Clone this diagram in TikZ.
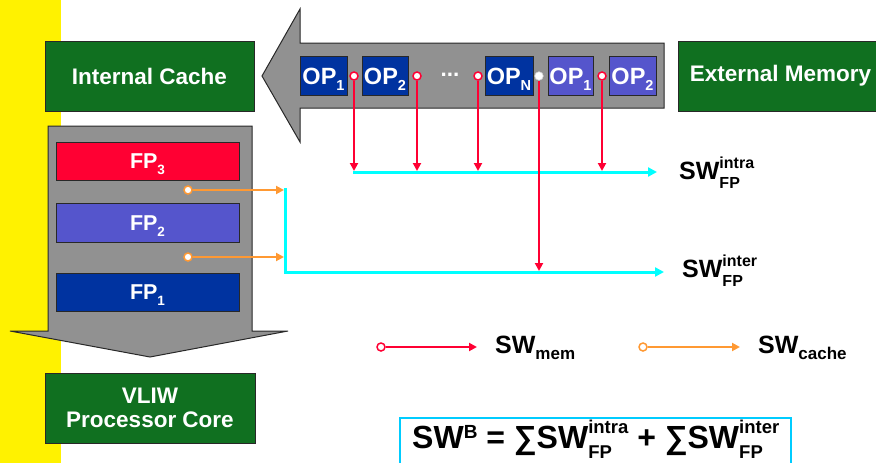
\documentclass[tikz,border=0pt]{standalone}
\usepackage{fontspec}
\setmainfont{Liberation Sans}
\usetikzlibrary{arrows.meta}
\definecolor{cgreen}{RGB}{16,112,32}
\definecolor{cdblue}{RGB}{0,51,160}
\definecolor{clblue}{RGB}{85,85,204}
\definecolor{cred}{RGB}{255,0,51}
\definecolor{cgray}{RGB}{145,145,145}
\definecolor{corange}{RGB}{255,153,51}
\definecolor{ccyan}{RGB}{0,255,255}
\definecolor{cframe}{RGB}{0,204,255}
\definecolor{cedge}{RGB}{40,40,40}
\newdimen\ssw
\newcommand\supsub[5]{%
  \setbox0\hbox{\fontsize{#1}{#1}\selectfont #4}%
  \setbox2\hbox{\fontsize{#1}{#1}\selectfont #5}%
  \ssw=\wd0 \ifdim\wd2>\ssw \ssw=\wd2 \fi
  \makebox[\ssw][l]{\rlap{\raisebox{#2}{\box0}}\raisebox{-#3}{\box2}}}
\newcommand\opsub[1]{OP\raisebox{-6pt}{\fontsize{14.5}{14.5}\selectfont #1}}
\newcommand\fpsub[1]{FP\raisebox{-6pt}{\fontsize{13.5}{13.5}\selectfont #1}}
\begin{document}
\begin{tikzpicture}[x=1pt,y=-1pt,
  box/.style={draw=cedge, line width=1pt, inner sep=0pt, text=white,
    font=\fontsize{22.5}{24}\selectfont\bfseries},
  greenbox/.style={box, fill=cgreen, minimum width=209pt, minimum height=70pt},
  opbox/.style={box, minimum height=39pt, text height=17pt, text depth=0pt,
    font=\fontsize{23.5}{24}\selectfont\bfseries},
  fpbox/.style={box, minimum width=183pt, text height=15pt, text depth=0pt,
    font=\fontsize{21.5}{24}\selectfont\bfseries},
  bigarrow/.style={fill=cgray, draw=cedge, line width=1pt, line join=miter},
  redline/.style={draw=cred, line width=2.6pt, -{Triangle[length=8pt,width=8pt]}},
  orangeline/.style={draw=corange, line width=2.4pt, -{Triangle[length=8pt,width=8pt]}},
  cyanline/.style={draw=ccyan, line width=3pt, -{Triangle[length=9pt,width=9pt]}},
  dotred/.style={circle, inner sep=0pt, minimum size=8pt, fill=white, draw=cred, line width=1.5pt},
  dotorange/.style={circle, inner sep=0pt, minimum size=8pt, fill=white, draw=corange, line width=1.5pt},
  dotwhite/.style={circle, inner sep=0pt, minimum size=8.5pt, fill=white, draw=white!85!black, line width=0.6pt},
  swlab/.style={inner sep=0pt, text=black, font=\fontsize{25}{25}\selectfont\bfseries},
  eqlab/.style={inner sep=0pt, text=black, font=\fontsize{32}{33}\selectfont\bfseries}]
\useasboundingbox (0,0) rectangle (876,463);
% yellow strip
\fill[yellow] (0,0) rectangle (61,463);
% big gray arrows
\draw[bigarrow] (664,43) -- (300,43) -- (300,9) -- (262,76) -- (300,142) -- (300,108) -- (664,108) -- cycle;
\draw[bigarrow] (48,126) -- (252,126) -- (252,331) -- (288,331) -- (150,357) -- (10,331) -- (48,331) -- cycle;
% green boxes
\node[greenbox] (ic) at (149.5,76) {Internal Cache};
\node[greenbox, minimum width=198pt, anchor=west] (em) at (677.5,76) {\hspace*{7pt}External Memory};
\node[greenbox, minimum width=210pt, align=center] (vliw) at (150,408) {VLIW\\Processor Core};
% OP boxes
\node[opbox, fill=cdblue, minimum width=47pt] (op1) at (323.5,75.5) {\opsub{1}};
\node[opbox, fill=cdblue, minimum width=46pt] (op2) at (385,75.5) {\opsub{2}};
\node[inner sep=0pt, text=white, font=\fontsize{22.5}{24}\selectfont\bfseries, anchor=base] (dots) at (450,82) {\raisebox{6pt}{...}};
\node[opbox, fill=cdblue, minimum width=48pt] (opn) at (509,75.5) {\opsub{N}};
\node[opbox, fill=clblue, minimum width=45pt] (op1b) at (570.5,75.5) {\opsub{1}};
\node[opbox, fill=clblue, minimum width=47pt] (op2b) at (632.5,75.5) {\opsub{2}};
% FP boxes
\node[fpbox, fill=cred, minimum height=38pt] (fp3) at (147.5,161) {\fpsub{3}};
\node[fpbox, fill=clblue, minimum height=39pt] (fp2) at (147.5,222.5) {\fpsub{2}};
\node[fpbox, fill=cdblue, minimum height=38pt] (fp1) at (147.5,292) {\fpsub{1}};
% coordinates
\coordinate (intraL) at (353,172);
\coordinate (intraR) at (657,172);
\coordinate (cvtop) at (285,188);
\coordinate (cvbot) at (285,272);
\coordinate (interR) at (664,272);
\coordinate (oa1) at (284,190);
\coordinate (oa2) at (284,257);
% cyan lines
\draw[cyanline] (intraL) -- (intraR);
\draw[cyanline, line join=miter] (cvtop) -- (cvbot) -- (interR);
% dots on arrow
\node[dotred] (d1) at (354,76) {};
\node[dotred] (d2) at (417,76) {};
\node[dotred] (d3) at (478,76) {};
\node[dotwhite] (d4) at (539,76) {};
\node[dotred] (d5) at (602,76) {};
% red arrows
\draw[redline] (d1) -- (d1 |- 0,171);
\draw[redline] (d2) -- (d2 |- 0,171);
\draw[redline] (d3) -- (d3 |- 0,171);
\draw[redline] (d4) -- (d4 |- 0,271);
\draw[redline] (d5) -- (d5 |- 0,171);
% orange arrows
\node[dotorange] (o1) at (188,190) {};
\node[dotorange] (o2) at (188,257) {};
\draw[orangeline] (o1) -- (oa1);
\draw[orangeline] (o2) -- (oa2);
% labels
\node[swlab, anchor=base west] (swintra) at (679,179) {SW\supsub{16}{11pt}{9pt}{intra}{FP}};
\node[swlab, anchor=base west] (swinter) at (682,277) {SW\supsub{16}{11pt}{9pt}{inter}{FP}};
% legend
\node[dotred] (lr) at (381,347) {};
\coordinate (lre) at (477,347);
\draw[redline] (lr) -- (lre);
\node[swlab, anchor=base west] (swmem) at (495,353) {SW\raisebox{-6pt}{\fontsize{17}{17}\selectfont mem}};
\node[dotorange] (lo) at (643,347) {};
\coordinate (loe) at (740,347);
\draw[orangeline] (lo) -- (loe);
\node[swlab, anchor=base west] (swcache) at (758,353) {SW\raisebox{-6pt}{\fontsize{17}{17}\selectfont cache}};
% formula
\draw[cframe, line width=2.5pt] (400,470) -- (400,418) -- (791,418) -- (791,470);
\node[eqlab, anchor=base west] (eq) at (412,448) {SW\raisebox{9.5pt}{\fontsize{19}{19}\selectfont B} = ∑SW\supsub{18.5}{15pt}{10pt}{intra}{FP} + ∑SW\supsub{18.5}{15pt}{10pt}{inter}{FP}};
\end{tikzpicture}
\end{document}
